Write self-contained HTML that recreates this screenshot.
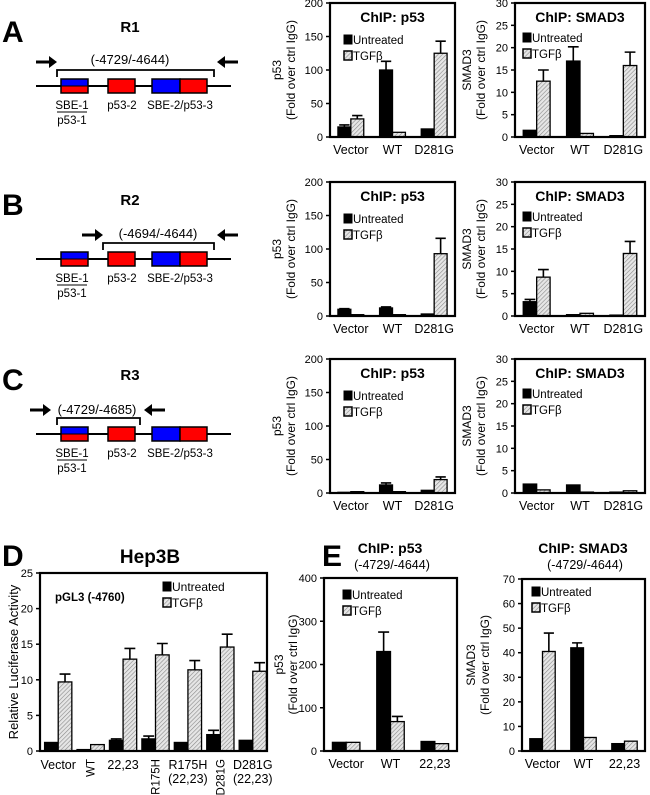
<!DOCTYPE html>
<html><head><meta charset="utf-8">
<style>
html,body{margin:0;padding:0;background:#fff;}
svg{display:block;font-family:"Liberation Sans",sans-serif;}
</style></head>
<body>
<svg id="fig" width="650" height="795" viewBox="0 0 650 795" xmlns="http://www.w3.org/2000/svg">
<defs>
<pattern id="hatch" patternUnits="userSpaceOnUse" width="3" height="3" patternTransform="rotate(45)">
<rect width="3" height="3" fill="#e6e6e6"/>
<line x1="0" y1="0" x2="0" y2="3" stroke="#8a8a8a" stroke-width="1.2"/>
</pattern>
</defs>
</svg>
<script>
// ===== data =====
const catsChip = ["Vector","WT","D281G"];
const catsE = ["Vector","WT","22,23"];
const catsD = ["Vector","WT","22,23","R175H","R175H|(22,23)","D281G","D281G|(22,23)"];

const aP53U = [15,100,12], aP53T = [27,7,125], aP53UE = [3,13,0], aP53TE = [5,0,18];
const aSmU = [1.5,17,0.3], aSmT = [12.5,0.8,16], aSmUE = [0,3.2,0], aSmTE = [2.5,0,3];
const bP53U = [10,12,3], bP53T = [2,2,93], bP53UE = [1,1.5,0], bP53TE = [0,0,23];
const bSmU = [3.2,0.3,0.2], bSmT = [8.7,0.6,14], bSmUE = [0.5,0,0], bSmTE = [1.7,0,2.7];
const cP53U = [1,12,4], cP53T = [2,2,20], cP53UE = [0,3,0], cP53TE = [0,0,4];
const cSmU = [2,1.8,0.2], cSmT = [0.7,0.2,0.5], cSmUE = [0,0,0], cSmTE = [0,0,0];
const dU = [1.2,0.2,1.5,1.7,1.2,2.3,1.5], dT = [9.7,0.9,12.9,13.5,11.4,14.6,11.2];
const dUE = [0,0,0.2,0.4,0,0.6,0], dTE = [1.1,0,1.5,1.6,1.3,1.8,1.2];
const eP53U = [20,230,22], eP53T = [20,68,17], eP53UE = [0,45,0], eP53TE = [0,12,0];
const eSmU = [5,42,3], eSmT = [40.5,5.5,4], eSmUE = [0,2,0], eSmTE = [7.5,0,0];
const ticksP53 = [0,50,100,150,200], ticksSm = [0,5,10,15,20,25,30];
const ticksD = [0,5,10,15,20,25], ticksEP = [0,100,200,300,400], ticksES = [0,10,20,30,40,50,60,70];

const svg = document.getElementById('fig');
const NS = "http://www.w3.org/2000/svg";
function mk(tag, attrs, parent){
  const e = document.createElementNS(NS, tag);
  for (const k in attrs) e.setAttribute(k, attrs[k]);
  (parent||svg).appendChild(e);
  return e;
}
function txt(s, x, y, size, opts, parent){
  opts = opts||{};
  const t = mk('text', {x:x, y:y, 'font-size':size, fill:'#000',
    'text-anchor':opts.anchor||'start', 'font-weight':opts.bold?'bold':'normal'}, parent);
  if (opts.rot) t.setAttribute('transform', 'rotate('+opts.rot+' '+x+' '+y+')');
  t.textContent = s;
  
  
  return t;
}

function chart(cfg){
  const g = mk('g', {});
  
  
  const L=cfg.x0, R=cfg.x1, T=cfg.y0, B=cfg.y1, max=cfg.max;
  const yS = v => B - v/max*(B-T);
  const n = cfg.cats.length, gw = (R-L)/n, bw = gw*cfg.bwf;
  const xS = i => L + (i+0.5)*gw + (cfg.shift||0);
  // bars
  for (let i=0;i<n;i++){
    const pairs = [[cfg.u,cfg.ue,'#000',-bw],[cfg.t,cfg.te,'url(#hatch)',0]];
    pairs.forEach(([vals,errs,fill,off],k)=>{
      const v = vals[i], x = xS(i)+off, y = yS(v);
      const r = mk('rect',{x:x,y:y,width:bw,height:Math.max(B-y,0.5),fill:fill,stroke:'#000','stroke-width':1.3},g);
      
      
      const e = errs[i];
      if (e>0){
        const cx = x+bw/2, ye = yS(v+e);
        const el = mk('path',{d:`M${cx},${y}V${ye}M${cx-bw*0.4},${ye}H${cx+bw*0.4}`,stroke:'#000','stroke-width':1.6,fill:'none'},g);
        
        
      }
    });
  }
  // box
  const box = mk('rect',{x:L,y:T,width:R-L,height:B-T,fill:'none',stroke:'#000','stroke-width':2.2},g);
  
  
  // ticks
  cfg.ticks.forEach(tv=>{
    const y=yS(tv);
    mk('line',{x1:L-4,x2:L,y1:y,y2:y,stroke:'#000','stroke-width':1.5},g);
    txt(String(tv), L-7, y+4, 11, {anchor:'end',name:'y-tick-label'}, g);
  });
  // x labels
  cfg.cats.forEach((c,i)=>{
    const cx = xS(i);
    if (cfg.rotCats && cfg.rotCats.includes(i)){
      txt(c, cx+4, B+8, 11.5, {anchor:'end',rot:-90,name:'x-tick-label'}, g);
    } else {
      const parts = c.split('|');
      parts.forEach((p,j)=>txt(p, cx, B+(cfg.xlOff||17)+j*14, 12.5, {anchor:'middle',name:'x-tick-label'}, g));
    }
  });
  // y title
  cfg.ytitle.forEach((s,j)=>{
    const x = cfg.ytx + j*14;
    txt(s, x, (T+B)/2, cfg.ytsize||12.5, {anchor:'middle',rot:-90,name:'y-axis-title'}, g);
  });
  // titles
  if (cfg.title) txt(cfg.title, (L+R)/2, T+19, 14, {anchor:'middle',bold:true,name:'chart-title'}, g);
  // legend
  const lx = cfg.lx, ly = cfg.ly;
  const s1 = mk('rect',{x:lx,y:ly,width:8,height:9,fill:'#000',stroke:'#000'},g);
   
  txt('Untreated', lx+9, ly+9, cfg.lfs||11.5, {name:'legend-entry'}, g);
  const s2 = mk('rect',{x:lx,y:ly+16,width:8,height:9,fill:'url(#hatch)',stroke:'#000','stroke-width':1.5},g);
   
  txt('TGFβ', lx+9, ly+25, cfg.lfs||11.5, {name:'legend-entry'}, g);
}

// ===== diagrams =====
function diagram(cfg){
  const g = mk('g',{});
  
  
  const ly = cfg.line;
  txt(cfg.letter, 2, cfg.letterY, 30, {bold:true,name:'panel-letter'}, g);
  txt(cfg.r, 130, cfg.line-54, 15, {anchor:'middle',bold:true,name:'region-title'}, g);
  mk('line',{x1:36,x2:231,y1:ly,y2:ly,stroke:'#000','stroke-width':2},g);
  mk('rect',{x:61,y:ly-7,width:27,height:7,fill:'#0000ff'},g);
  mk('rect',{x:61,y:ly,width:27,height:7,fill:'#ff0000'},g);
  mk('rect',{x:61,y:ly-7,width:27,height:14,fill:'none',stroke:'#000','stroke-width':1.5},g);
  mk('line',{x1:61,x2:88,y1:ly,y2:ly,stroke:'#000','stroke-width':1},g);
  mk('rect',{x:108,y:ly-7,width:27,height:14,fill:'#ff0000',stroke:'#000','stroke-width':1.5},g);
  mk('rect',{x:152,y:ly-7,width:28,height:14,fill:'#0000ff',stroke:'#000','stroke-width':1.5},g);
  mk('rect',{x:180,y:ly-7,width:27,height:14,fill:'#ff0000',stroke:'#000','stroke-width':1.5},g);
  txt('SBE-1', 72, ly+23, 11.5, {anchor:'middle',name:'site-label'}, g);
  mk('line',{x1:57,x2:87,y1:ly+26,y2:ly+26,stroke:'#000','stroke-width':1},g);
  txt('p53-1', 72, ly+38, 11.5, {anchor:'middle',name:'site-label'}, g);
  txt('p53-2', 122, ly+23, 11.5, {anchor:'middle',name:'site-label'}, g);
  txt('SBE-2/p53-3', 180, ly+23, 11.5, {anchor:'middle',name:'site-label'}, g);
  const [bx0,bx1] = cfg.br, by = ly-16;
  mk('path',{d:`M${bx0},${by+7}V${by}H${bx1}V${by+7}`,fill:'none',stroke:'#000','stroke-width':1.8},g);
  txt(cfg.range, cfg.tx, cfg.ty, 13, {anchor:'middle',name:'primer-range'}, g);
  const [ax0,ax1] = cfg.arr, ay = cfg.ay;
  mk('path',{d:`M${ax0},${ay-1.5}h13v-4.5l8,6l-8,6v-4.5h-13z`,fill:'#000'},g);
  mk('path',{d:`M${ax1},${ay-1.5}h-13v-4.5l-8,6l8,6v-4.5h13z`,fill:'#000'},g);
}
diagram({name:'diagram-r1',letter:'A',letterY:42,r:'R1',line:86,br:[57,214],range:'(-4729/-4644)',tx:130,ty:64,arr:[36,238],ay:62});
diagram({name:'diagram-r2',letter:'B',letterY:215,r:'R2',line:259,br:[103,214],range:'(-4694/-4644)',tx:158,ty:238,arr:[82,238],ay:235});
diagram({name:'diagram-r3',letter:'C',letterY:390,r:'R3',line:434,br:[57,140],range:'(-4729/-4685)',tx:97,ty:414,arr:[30,165],ay:410});

// ===== ChIP charts rows A-C =====
const rows = [
  {y0:3,y1:137,p:[aP53U,aP53T,aP53UE,aP53TE],s:[aSmU,aSmT,aSmUE,aSmTE],k:'a'},
  {y0:182,y1:316,p:[bP53U,bP53T,bP53UE,bP53TE],s:[bSmU,bSmT,bSmUE,bSmTE],k:'b'},
  {y0:359,y1:493,p:[cP53U,cP53T,cP53UE,cP53TE],s:[cSmU,cSmT,cSmUE,cSmTE],k:'c'}
];
rows.forEach(r=>{
  chart({name:'chart-'+r.k+'-p53',x0:330,x1:455,y0:r.y0,y1:r.y1,max:200,cats:catsChip,
    u:r.p[0],t:r.p[1],ue:r.p[2],te:r.p[3],bwf:0.31,ticks:ticksP53,
    ytitle:['p53','(Fold over ctrl IgG)'],ytx:281,ytsize:12,title:'ChIP: p53',lx:344,ly:r.y0+32});
  chart({name:'chart-'+r.k+'-smad3',x0:515,x1:645,y0:r.y0,y1:r.y1,max:30,cats:catsChip,
    u:r.s[0],t:r.s[1],ue:r.s[2],te:r.s[3],bwf:0.31,ticks:ticksSm,
    ytitle:['SMAD3','(Fold over ctrl IgG)'],ytx:471,ytsize:12,title:'ChIP: SMAD3',lx:523,ly:r.y0+30});
});

// ===== D =====
txt('D', 2, 566, 30, {bold:true,name:'panel-letter'});
txt('Hep3B', 150, 563, 19, {anchor:'middle',bold:true,name:'chart-title'});
chart({name:'chart-d-luciferase',x0:40,x1:267,y0:573,y1:751,max:25,cats:catsD,
  u:dU,t:dT,ue:dUE,te:dTE,bwf:0.42,shift:2,ticks:ticksD,rotCats:[1,3,5],xlOff:18,
  ytitle:['Relative Luciferase Activity'],ytx:18,ytsize:13,lx:163,ly:582,lfs:12});
txt('pGL3 (-4760)', 55, 601, 11.5, {bold:true,name:'construct-label'});

// ===== E =====
txt('E', 322, 566, 30, {bold:true,name:'panel-letter'});
txt('ChIP: p53', 390, 553, 14, {anchor:'middle',bold:true,name:'chart-title'});
txt('(-4729/-4644)', 392, 569, 12.5, {anchor:'middle',name:'chart-subtitle'});
txt('ChIP: SMAD3', 583, 553, 14, {anchor:'middle',bold:true,name:'chart-title'});
txt('(-4729/-4644)', 585, 569, 12.5, {anchor:'middle',name:'chart-subtitle'});
chart({name:'chart-e-p53',x0:324,x1:457,y0:578,y1:751,max:400,cats:catsE,
  u:eP53U,t:eP53T,ue:eP53UE,te:eP53TE,bwf:0.31,ticks:ticksEP,
  ytitle:['p53','(Fold over ctrl IgG)'],ytx:283,ytsize:12,lx:343,ly:590});
chart({name:'chart-e-smad3',x0:522,x1:645,y0:579,y1:751,max:70,cats:catsE,
  u:eSmU,t:eSmT,ue:eSmUE,te:eSmTE,bwf:0.31,ticks:ticksES,
  ytitle:['SMAD3','(Fold over ctrl IgG)'],ytx:475,ytsize:12,lx:532,ly:587});
</script>
</body></html>
